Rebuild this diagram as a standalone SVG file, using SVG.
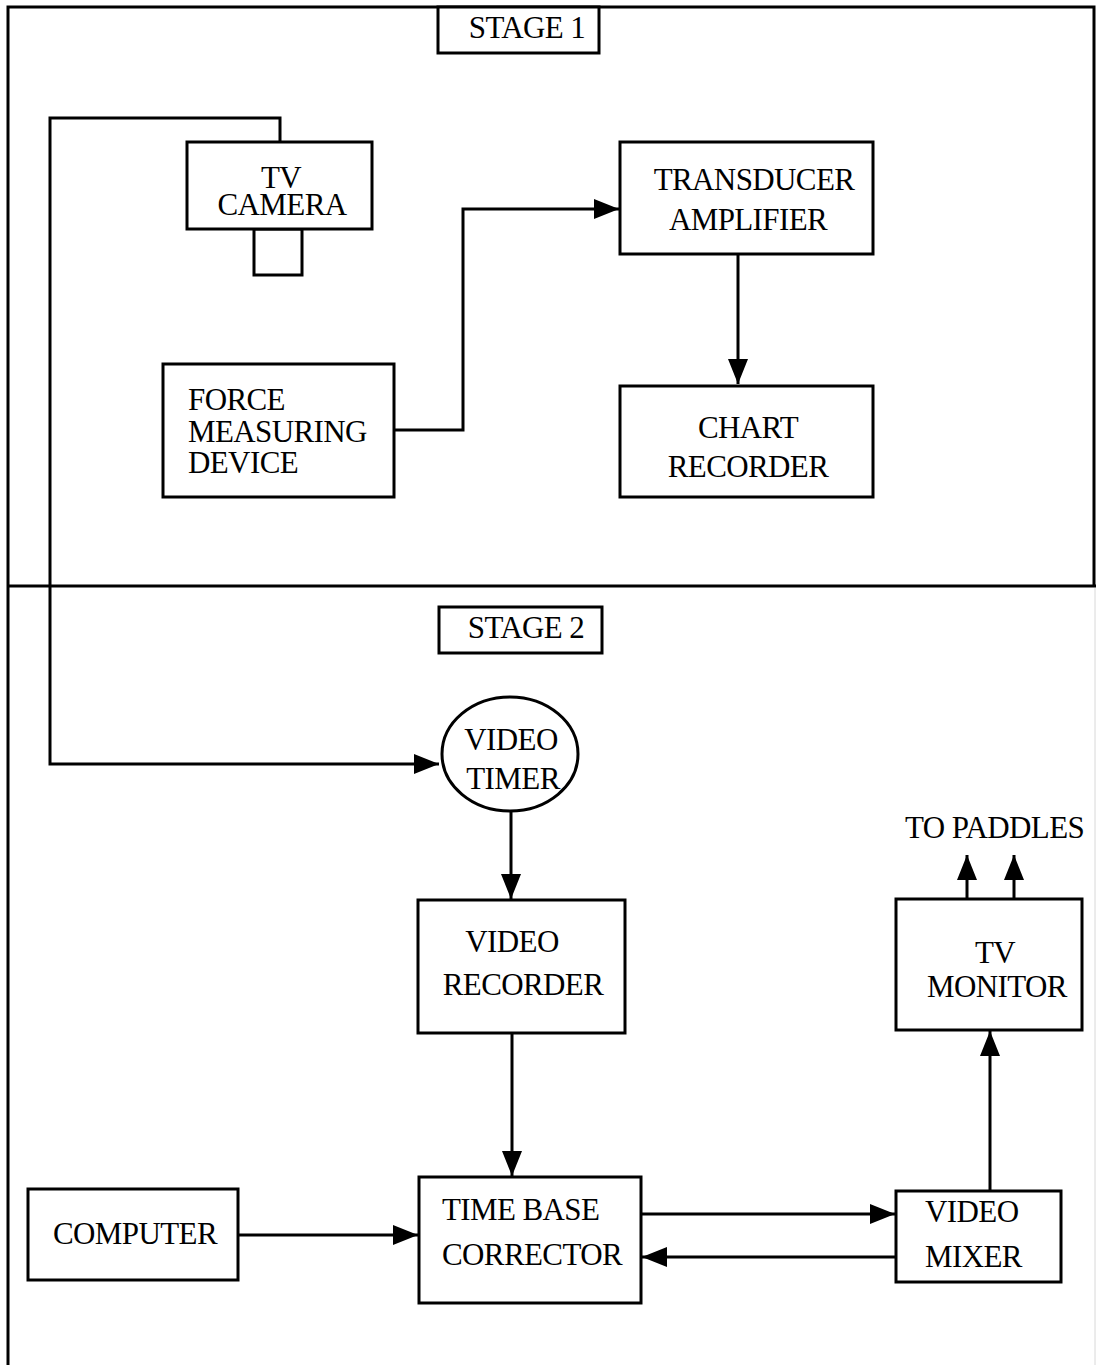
<svg xmlns="http://www.w3.org/2000/svg" width="1096" height="1365" viewBox="0 0 1096 1365">
  <style>
    .box { fill: #fff; stroke: #000; stroke-width: 3; }
    .wire { fill: none; stroke: #000; stroke-width: 3; }
    .frame { fill: none; stroke: #000; stroke-width: 3; }
    text { font-family: "Liberation Serif", "Times New Roman", serif; font-size: 31px; fill: #000; letter-spacing: -0.6px; }
    .c { text-anchor: middle; }
  </style>
  <defs>
    <marker id="arrow" markerUnits="userSpaceOnUse" markerWidth="26" markerHeight="22" refX="25" refY="10" orient="auto">
      <path d="M0,0 L25,10 L0,20 Z" fill="#000"/>
    </marker>
  </defs>

  <rect width="1096" height="1365" fill="#fff"/>

  <!-- outer frame and stage divider -->
  <g id="frame">
    <path class="frame" d="M8,1365 L8,7 L1094,7 L1094,586"/>
    <line class="frame" x1="8" y1="586" x2="1096" y2="586"/>
    <line x1="1095" y1="588" x2="1095" y2="1365" stroke="#d8d8d8" stroke-width="1"/>
  </g>

  <!-- connectors -->
  <g id="connectors">
    <!-- camera cable to video timer -->
    <path class="wire" d="M280,142 L280,118 L50,118 L50,764 L439,764" marker-end="url(#arrow)"/>
    <!-- force device to transducer amplifier -->
    <path class="wire" d="M394,430 L463,430 L463,209 L619,209" marker-end="url(#arrow)"/>
    <!-- transducer amplifier to chart recorder -->
    <line class="wire" x1="738" y1="254" x2="738" y2="384" marker-end="url(#arrow)"/>
    <!-- video timer to video recorder -->
    <line class="wire" x1="511" y1="811" x2="511" y2="899" marker-end="url(#arrow)"/>
    <!-- video recorder to time base corrector -->
    <line class="wire" x1="512" y1="1033" x2="512" y2="1176" marker-end="url(#arrow)"/>
    <!-- computer to time base corrector -->
    <line class="wire" x1="238" y1="1235" x2="418" y2="1235" marker-end="url(#arrow)"/>
    <!-- time base corrector to video mixer -->
    <line class="wire" x1="641" y1="1214" x2="895" y2="1214" marker-end="url(#arrow)"/>
    <!-- video mixer back to time base corrector -->
    <line class="wire" x1="896" y1="1257" x2="642" y2="1257" marker-end="url(#arrow)"/>
    <!-- video mixer to tv monitor -->
    <line class="wire" x1="990" y1="1191" x2="990" y2="1031" marker-end="url(#arrow)"/>
    <!-- tv monitor outputs to paddles -->
    <line class="wire" x1="967" y1="899" x2="967" y2="855" marker-end="url(#arrow)"/>
    <line class="wire" x1="1014" y1="899" x2="1014" y2="855" marker-end="url(#arrow)"/>
  </g>

  <g id="stage1-label">
    <rect class="box" x="438" y="7" width="161" height="46"/>
    <text class="c" x="527" y="38">STAGE 1</text>
  </g>

  <g id="tv-camera">
    <rect class="box" x="254" y="229" width="48" height="46"/>
    <rect class="box" x="187" y="142" width="185" height="87"/>
    <text class="c" x="281" y="188">TV</text>
    <text class="c" x="282" y="215">CAMERA</text>
  </g>

  <g id="transducer-amplifier">
    <rect class="box" x="620" y="142" width="253" height="112"/>
    <text class="c" x="754" y="190">TRANSDUCER</text>
    <text class="c" x="748" y="230">AMPLIFIER</text>
  </g>

  <g id="force-measuring-device">
    <rect class="box" x="163" y="364" width="231" height="133"/>
    <text x="188" y="410">FORCE</text>
    <text x="188" y="442">MEASURING</text>
    <text x="188" y="473">DEVICE</text>
  </g>

  <g id="chart-recorder">
    <rect class="box" x="620" y="386" width="253" height="111"/>
    <text class="c" x="748" y="438">CHART</text>
    <text class="c" x="748" y="477">RECORDER</text>
  </g>

  <g id="stage2-label">
    <rect class="box" x="439" y="607" width="163" height="46"/>
    <text class="c" x="526" y="638">STAGE 2</text>
  </g>

  <g id="video-timer">
    <ellipse class="box" cx="510" cy="754" rx="68" ry="57"/>
    <text class="c" x="511" y="750">VIDEO</text>
    <text class="c" x="513" y="789">TIMER</text>
  </g>

  <g id="video-recorder">
    <rect class="box" x="418" y="900" width="207" height="133"/>
    <text class="c" x="512" y="952">VIDEO</text>
    <text class="c" x="523" y="995">RECORDER</text>
  </g>

  <g id="tv-monitor">
    <rect class="box" x="896" y="899" width="186" height="131"/>
    <text class="c" x="995" y="963">TV</text>
    <text class="c" x="997" y="997">MONITOR</text>
  </g>

  <g id="to-paddles">
    <text x="905" y="838">TO PADDLES</text>
  </g>

  <g id="computer">
    <rect class="box" x="28" y="1189" width="210" height="91"/>
    <text x="53" y="1244">COMPUTER</text>
  </g>

  <g id="time-base-corrector">
    <rect class="box" x="419" y="1177" width="222" height="126"/>
    <text x="442" y="1220">TIME BASE</text>
    <text x="442" y="1265">CORRECTOR</text>
  </g>

  <g id="video-mixer">
    <rect class="box" x="896" y="1191" width="165" height="91"/>
    <text x="925" y="1222">VIDEO</text>
    <text x="925" y="1267">MIXER</text>
  </g>
</svg>
